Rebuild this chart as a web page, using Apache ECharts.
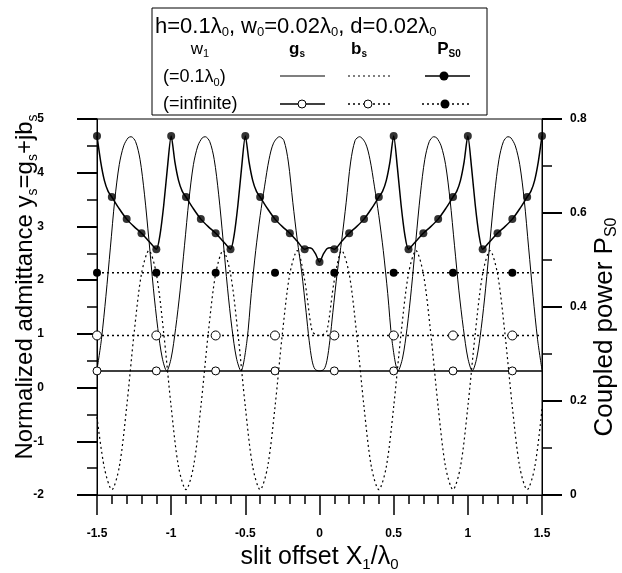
<!DOCTYPE html>
<html>
<head>
<meta charset="utf-8">
<script src="https://cdn.jsdelivr.net/npm/echarts@6/dist/echarts.min.js"></script>
<style>
  html, body { margin: 0; padding: 0; background: #fff; }
  #main { width: 622px; height: 573px; }
</style>
</head>
<body>
<div id="main"></div>
<script>
// g_s, w1 = 0.1 lambda0 (solid curve), [x, y]
var gsNarrow = [
  [-1.5,0.33],[-1.47,0.9],[-1.44,1.7],[-1.41,2.6],[-1.38,3.5],[-1.35,4.15],[-1.32,4.5],[-1.29,4.65],[-1.27,4.67],
  [-1.24,4.58],[-1.21,4.25],[-1.18,3.6],[-1.15,2.75],[-1.12,1.85],[-1.09,1.1],[-1.06,0.55],[-1.03,0.31],
  [-1.0,0.55],[-0.97,1.1],[-0.94,1.8],[-0.91,2.65],[-0.88,3.5],[-0.85,4.15],[-0.82,4.5],[-0.79,4.65],[-0.77,4.67],
  [-0.74,4.58],[-0.71,4.25],[-0.68,3.6],[-0.65,2.75],[-0.62,1.85],[-0.59,1.1],[-0.56,0.55],[-0.53,0.31],
  [-0.49,0.85],[-0.46,1.75],[-0.43,2.55],[-0.4,3.2],[-0.37,3.75],[-0.34,4.25],[-0.31,4.55],[-0.27,4.67],
  [-0.24,4.6],[-0.21,4.2],[-0.18,3.45],[-0.15,2.75],[-0.12,2.15],[-0.09,1.4],[-0.07,0.88],[-0.05,0.5],[-0.03,0.34],[0,0.31],
  [0.03,0.34],[0.05,0.5],[0.07,0.88],[0.09,1.4],[0.12,2.15],[0.15,2.75],[0.18,3.45],[0.21,4.2],[0.24,4.6],
  [0.27,4.67],[0.31,4.55],[0.34,4.25],[0.37,3.75],[0.4,3.2],[0.43,2.55],[0.46,1.75],[0.49,0.85],[0.53,0.31],
  [0.56,0.55],[0.59,1.1],[0.62,1.85],[0.65,2.75],[0.68,3.6],[0.71,4.25],[0.74,4.58],[0.77,4.67],
  [0.79,4.65],[0.82,4.5],[0.85,4.15],[0.88,3.5],[0.91,2.65],[0.94,1.8],[0.97,1.1],[1.0,0.55],[1.03,0.31],
  [1.06,0.55],[1.09,1.1],[1.12,1.85],[1.15,2.75],[1.18,3.6],[1.21,4.25],[1.24,4.58],[1.27,4.67],
  [1.29,4.65],[1.32,4.5],[1.35,4.15],[1.38,3.5],[1.41,2.6],[1.44,1.7],[1.47,0.9],[1.5,0.33]
];

// b_s, w1 = 0.1 lambda0 (dotted curve)
var bsNarrow = [
  [-1.5,-0.55],[-1.45,-1.5],[-1.4,-1.9],[-1.35,-1.48],[-1.3,-0.36],[-1.25,1.01],[-1.2,2.12],[-1.15,2.55],
  [-1.1,2.12],[-1.05,1.01],[-1.0,-0.36],[-0.95,-1.48],[-0.9,-1.9],[-0.85,-1.48],[-0.8,-0.36],[-0.75,1.01],
  [-0.7,2.12],[-0.65,2.55],[-0.6,2.12],[-0.55,1.01],[-0.5,-0.36],[-0.45,-1.48],[-0.4,-1.9],[-0.35,-1.48],
  [-0.3,-0.36],[-0.25,1.01],[-0.2,2.12],[-0.15,2.55],[-0.1,2.0],[-0.05,1.05],[-0.02,0.98],[0,0.97],
  [0.02,0.98],[0.05,1.05],[0.1,2.0],[0.15,2.55],[0.2,2.12],[0.25,1.01],[0.3,-0.36],[0.35,-1.48],[0.4,-1.9],
  [0.45,-1.48],[0.5,-0.36],[0.55,1.01],[0.6,2.12],[0.65,2.55],[0.7,2.12],[0.75,1.01],[0.8,-0.36],[0.85,-1.48],
  [0.9,-1.9],[0.95,-1.48],[1.0,-0.36],[1.05,1.01],[1.1,2.12],[1.15,2.55],[1.2,2.12],[1.25,1.01],[1.3,-0.36],
  [1.35,-1.48],[1.4,-1.9],[1.45,-1.5],[1.5,-0.4]
];

// P_S0, w1 = 0.1 lambda0 (right axis)
var psNarrow = [
  [-1.5,0.764],[-1.475,0.709],[-1.45,0.669],[-1.425,0.646],[-1.4,0.634],[-1.35,0.609],[-1.3,0.587],[-1.25,0.571],
  [-1.2,0.557],[-1.15,0.54],[-1.1,0.523],[-1.075,0.554],[-1.05,0.617],[-1.025,0.697],
  [-1.0,0.764],[-0.975,0.709],[-0.95,0.669],[-0.925,0.646],[-0.9,0.634],[-0.85,0.609],[-0.8,0.587],[-0.75,0.571],
  [-0.7,0.557],[-0.65,0.54],[-0.6,0.523],[-0.575,0.554],[-0.55,0.617],[-0.525,0.697],
  [-0.5,0.764],[-0.475,0.709],[-0.45,0.669],[-0.425,0.646],[-0.4,0.634],[-0.35,0.609],[-0.3,0.587],[-0.25,0.571],
  [-0.2,0.557],[-0.15,0.54],[-0.1,0.523],[-0.075,0.526],[-0.05,0.524],[-0.025,0.512],
  [0,0.496],
  [0.025,0.512],[0.05,0.524],[0.075,0.526],[0.1,0.523],[0.15,0.54],[0.2,0.557],[0.25,0.571],[0.3,0.587],
  [0.35,0.609],[0.4,0.634],[0.425,0.646],[0.45,0.669],[0.475,0.709],
  [0.5,0.764],[0.525,0.697],[0.55,0.617],[0.575,0.554],[0.6,0.523],[0.65,0.54],[0.7,0.557],[0.75,0.571],
  [0.8,0.587],[0.85,0.609],[0.9,0.634],[0.925,0.646],[0.95,0.669],[0.975,0.709],
  [1.0,0.764],[1.025,0.697],[1.05,0.617],[1.075,0.554],[1.1,0.523],[1.15,0.54],[1.2,0.557],[1.25,0.571],
  [1.3,0.587],[1.35,0.609],[1.4,0.634],[1.425,0.646],[1.45,0.669],[1.475,0.709],[1.5,0.764]
];

// w1 = infinite: constant values and marker positions
var infMarkX = [-1.5, -1.1, -0.7, -0.3, 0.1, 0.5, 0.9, 1.3];
var gsInf = 0.31;
var bsInf = 0.97;
var psInf = 0.473;

var FONT = "Arial, 'Liberation Sans', sans-serif";

// markers of P_S0 every 0.1
var psMarks = psNarrow.filter(function (p) {
  return Math.abs(p[0] * 10 - Math.round(p[0] * 10)) < 1e-6;
});

function flatLine(v) {
  var d = infMarkX.map(function (x) { return [x, v]; });
  d.push({ value: [1.5, v], symbol: 'none' });
  return d;
}

function nameStyle(size, pad) {
  return {
    fontSize: size, fontFamily: FONT, color: '#000', lineHeight: 30, padding: pad,
    rich: { s: { fontSize: Math.round(size * 0.6), lineHeight: 16, verticalAlign: 'bottom', fontFamily: FONT, color: '#000' } }
  };
}
var tickLabel = { color: '#000', fontSize: 12, fontWeight: 'bold', fontFamily: FONT };

var myChart = echarts.init(document.getElementById('main'));

var option = {
  animation: false,
  backgroundColor: '#fff',
  grid: {
    left: 97, right: 80, top: 119, bottom: 78,
    show: true, borderColor: '#000', borderWidth: 1,
    outerBoundsMode: 'none'
  },
  xAxis: {
    type: 'value', min: -1.5, max: 1.5, interval: 0.5,
    name: 'slit offset X{s|1}/λ{s|0}',
    nameLocation: 'middle', nameGap: 47, nameMoveOverlap: false,
    nameTextStyle: nameStyle(25, [0, 0, 0, 0]),
    axisLine: { onZero: false, lineStyle: { color: '#000', width: 1 } },
    axisTick: { length: 20, lineStyle: { color: '#000', width: 1.5 } },
    minorTick: { show: true, splitNumber: 5, length: 9, lineStyle: { color: '#000', width: 1.5 } },
    axisLabel: Object.assign({ margin: 33 }, tickLabel),
    splitLine: { show: false }
  },
  yAxis: [{
    type: 'value', min: -2, max: 5, interval: 1, position: 'left',
    name: 'Normalized admittance y{s|s}=g{s|s}+jb{s|s}',
    nameLocation: 'middle', nameRotate: 90, nameGap: 57, nameMoveOverlap: false,
    nameTextStyle: nameStyle(24, [0, 0, 0, 40]),
    axisLine: { show: true, onZero: false, lineStyle: { color: '#000', width: 1 } },
    axisTick: { show: true, length: 20, lineStyle: { color: '#000', width: 2 } },
    minorTick: { show: true, splitNumber: 2, length: 10, lineStyle: { color: '#000', width: 1.5 } },
    axisLabel: Object.assign({ margin: 53, align: 'right' }, tickLabel),
    splitLine: { show: false }
  }, {
    type: 'value', min: 0, max: 0.8, interval: 0.2, position: 'right',
    name: 'Coupled power P{s|S0}',
    nameLocation: 'middle', nameRotate: 90, nameGap: 48, nameMoveOverlap: false,
    nameTextStyle: nameStyle(26, [0, 40, 0, 0]),
    axisLine: { show: true, onZero: false, lineStyle: { color: '#000', width: 1 } },
    axisTick: { show: true, length: 20, lineStyle: { color: '#000', width: 2 } },
    minorTick: { show: true, splitNumber: 2, length: 10, lineStyle: { color: '#000', width: 1.5 } },
    axisLabel: Object.assign({ margin: 28 }, tickLabel),
    splitLine: { show: false }
  }],
  series: [{
    name: 'gs w1=0.1', type: 'line', data: gsNarrow, smooth: 0.3, showSymbol: false,
    lineStyle: { color: '#000', width: 1 }
  }, {
    name: 'bs w1=0.1', type: 'line', data: bsNarrow, smooth: 0.3, showSymbol: false,
    lineStyle: { color: '#000', width: 1.2, type: [2, 3] }
  }, {
    name: 'Ps w1=0.1', type: 'line', yAxisIndex: 1, data: psNarrow, smooth: 0.25, showSymbol: false,
    lineStyle: { color: '#000', width: 1.5 }
  }, {
    name: 'Ps w1=0.1 marks', type: 'scatter', yAxisIndex: 1, data: psMarks, symbolSize: 8,
    itemStyle: { color: '#000' }, z: 5
  }, {
    name: 'gs inf', type: 'line', data: flatLine(gsInf), symbol: 'circle', symbolSize: 8,
    lineStyle: { color: '#000', width: 1.5 },
    itemStyle: { color: '#fff', borderColor: '#000', borderWidth: 1 }, z: 4
  }, {
    name: 'bs inf', type: 'line', data: flatLine(bsInf), symbol: 'circle', symbolSize: 9,
    lineStyle: { color: '#000', width: 1.5, type: [2, 3] },
    itemStyle: { color: '#fff', borderColor: '#000', borderWidth: 1 }, z: 4
  }, {
    name: 'Ps inf', type: 'line', yAxisIndex: 1, data: flatLine(psInf), symbol: 'circle', symbolSize: 8,
    lineStyle: { color: '#000', width: 1.5, type: [2, 3] },
    itemStyle: { color: '#000' }, z: 4
  }],
  graphic: {
    elements: [
      { type: 'rect', shape: { x: 152, y: 8, width: 335, height: 107 },
        style: { fill: '#fff', stroke: '#000', lineWidth: 1 }, z: 10 },
      { type: 'text', x: 155, y: 27, z: 11,
        style: { text: 'h=0.1λ{s|0}, w{s|0}=0.02λ{s|0}, d=0.02λ{s|0}', fontSize: 22, fontFamily: FONT, fill: '#000',
          lineHeight: 24, verticalAlign: 'middle', align: 'left',
          rich: { s: { fontSize: 13, lineHeight: 12, verticalAlign: 'bottom', fontFamily: FONT } } } },
      { type: 'text', x: 200, y: 49, z: 11,
        style: { text: 'w{s|1}', fontSize: 17, fontFamily: FONT, fill: '#000', lineHeight: 20,
          verticalAlign: 'middle', align: 'center',
          rich: { s: { fontSize: 11, lineHeight: 12, verticalAlign: 'bottom', fontFamily: FONT } } } },
      { type: 'text', x: 297, y: 49, z: 11,
        style: { text: 'g{s|s}', fontSize: 17, fontWeight: 'bold', fontFamily: FONT, fill: '#000', lineHeight: 20,
          verticalAlign: 'middle', align: 'center',
          rich: { s: { fontSize: 10, lineHeight: 11, fontWeight: 'bold', verticalAlign: 'bottom', fontFamily: FONT } } } },
      { type: 'text', x: 359, y: 49, z: 11,
        style: { text: 'b{s|s}', fontSize: 17, fontWeight: 'bold', fontFamily: FONT, fill: '#000', lineHeight: 20,
          verticalAlign: 'middle', align: 'center',
          rich: { s: { fontSize: 10, lineHeight: 11, fontWeight: 'bold', verticalAlign: 'bottom', fontFamily: FONT } } } },
      { type: 'text', x: 449, y: 49, z: 11,
        style: { text: 'P{s|S0}', fontSize: 17, fontWeight: 'bold', fontFamily: FONT, fill: '#000', lineHeight: 20,
          verticalAlign: 'middle', align: 'center',
          rich: { s: { fontSize: 10, lineHeight: 11, fontWeight: 'bold', verticalAlign: 'bottom', fontFamily: FONT } } } },
      { type: 'text', x: 163, y: 77, z: 11,
        style: { text: '(=0.1λ{s|0})', fontSize: 18, fontFamily: FONT, fill: '#000', lineHeight: 22,
          verticalAlign: 'middle', align: 'left',
          rich: { s: { fontSize: 11, lineHeight: 11, verticalAlign: 'bottom', fontFamily: FONT } } } },
      { type: 'text', x: 163, y: 104, z: 11,
        style: { text: '(=infinite)', fontSize: 18, fontFamily: FONT, fill: '#000',
          verticalAlign: 'middle', align: 'left' } },
      // sample row: w1 = 0.1
      { type: 'line', z: 11, shape: { x1: 280, y1: 76, x2: 325, y2: 76 }, style: { stroke: '#000', lineWidth: 1.2 } },
      { type: 'line', z: 11, shape: { x1: 348, y1: 76, x2: 391, y2: 76 }, style: { stroke: '#000', lineWidth: 1.2, lineDash: [2, 3] } },
      { type: 'line', z: 11, shape: { x1: 425, y1: 76, x2: 470, y2: 76 }, style: { stroke: '#000', lineWidth: 1.5 } },
      { type: 'circle', z: 12, shape: { cx: 444, cy: 76, r: 4.5 }, style: { fill: '#000' } },
      // sample row: w1 = infinite
      { type: 'line', z: 11, shape: { x1: 280, y1: 104, x2: 325, y2: 104 }, style: { stroke: '#000', lineWidth: 1.5 } },
      { type: 'circle', z: 12, shape: { cx: 302, cy: 104, r: 4 }, style: { fill: '#fff', stroke: '#000', lineWidth: 1 } },
      { type: 'line', z: 11, shape: { x1: 348, y1: 104, x2: 393, y2: 104 }, style: { stroke: '#000', lineWidth: 1.5, lineDash: [2, 3] } },
      { type: 'circle', z: 12, shape: { cx: 368, cy: 104, r: 4 }, style: { fill: '#fff', stroke: '#000', lineWidth: 1 } },
      { type: 'line', z: 11, shape: { x1: 422, y1: 104, x2: 470, y2: 104 }, style: { stroke: '#000', lineWidth: 1.5, lineDash: [2, 3] } },
      { type: 'circle', z: 12, shape: { cx: 445, cy: 104, r: 4.5 }, style: { fill: '#000' } }
    ]
  }
};

myChart.setOption(option);
</script>
</body>
</html>
